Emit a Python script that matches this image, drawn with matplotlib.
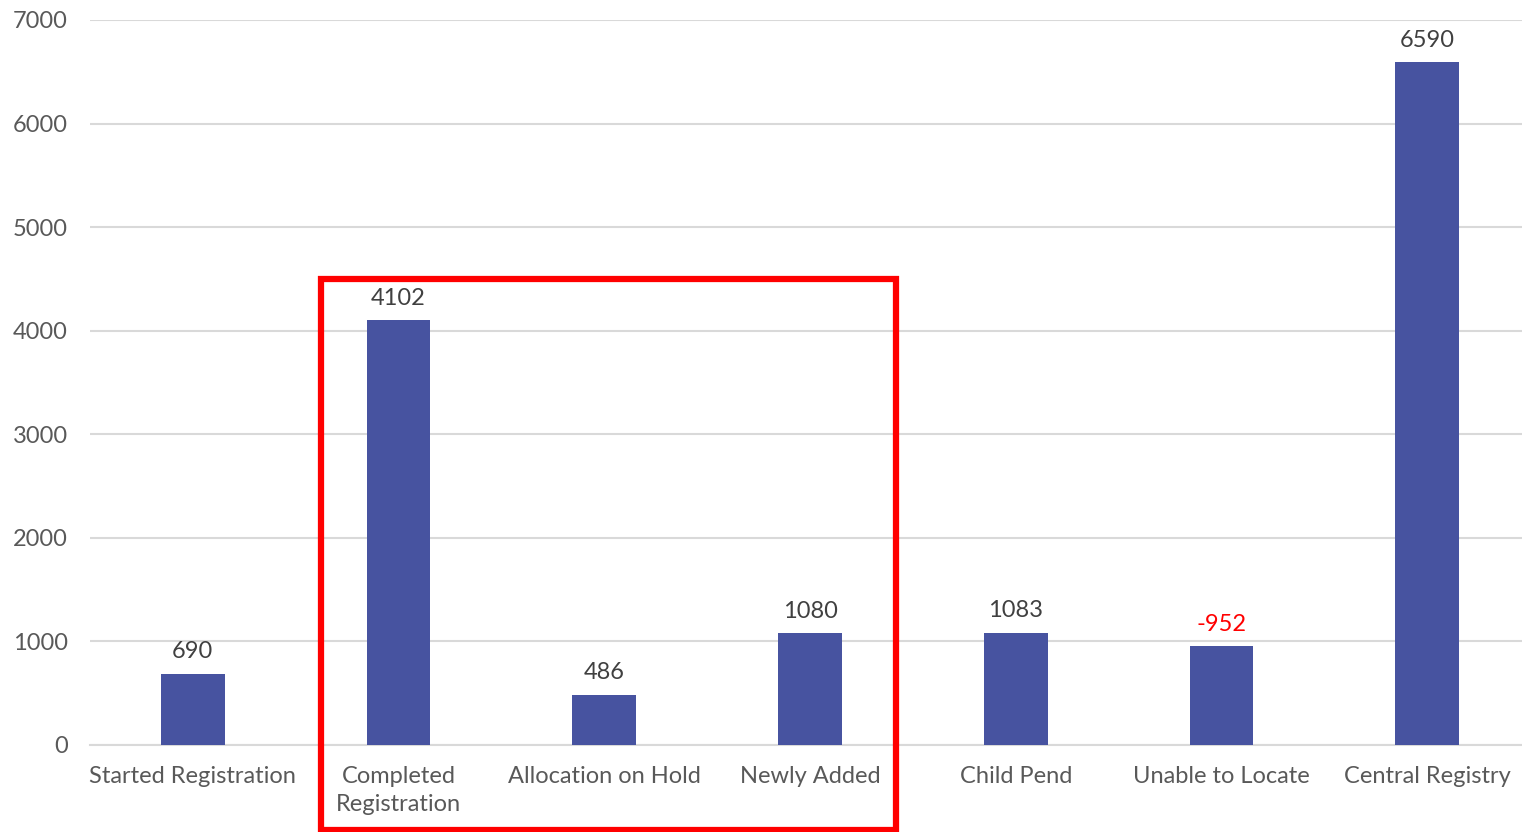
import matplotlib
matplotlib.use('Agg')
import matplotlib.pyplot as plt
from matplotlib.patches import Rectangle

categories = ['Started Registration', 'Completed\nRegistration', 'Allocation on Hold',
              'Newly Added', 'Child Pend', 'Unable to Locate', 'Central Registry']
values = [690, 4102, 486, 1080, 1083, 952, 6590]
value_labels = ['690', '4102', '486', '1080', '1083', '-952', '6590']
label_colors = ['#404040', '#404040', '#404040', '#404040', '#404040', '#FF0000', '#404040']

plt.rcParams['font.family'] = ['Lato', 'DejaVu Sans']

fig = plt.figure(figsize=(15.22, 8.32), dpi=100)
ax = fig.add_axes([90 / 1522, 0.1046, 1440 / 1522, 0.8714])

x = range(len(categories))
bars = ax.bar(x, values, width=0.31, color='#4753A0', zorder=3)

for i, b in enumerate(bars):
    ax.text(b.get_x() + b.get_width() / 2, values[i] + 110, value_labels[i],
            ha='center', va='bottom', fontsize=17, color=label_colors[i])

ax.set_xlim(-0.5, len(categories) - 0.5)
ax.set_ylim(0, 7000)
ax.set_yticks(range(0, 7001, 1000))
ax.set_xticks(list(x))
ax.set_xticklabels(categories, fontsize=17, color='#595959', linespacing=1.45)
ax.tick_params(axis='y', labelsize=17, labelcolor='#595959', length=0, pad=16)
ax.tick_params(axis='x', length=0, pad=15)
ax.grid(axis='y', color='#D9D9D9', linewidth=1.5, zorder=0)
for s in ['top', 'right', 'left']:
    ax.spines[s].set_visible(False)
ax.spines['bottom'].set_color('#D9D9D9')
ax.spines['bottom'].set_linewidth(1.5)

# red highlight box around the middle group
rect = Rectangle((321 / 1522, 2 / 832), (896 - 321) / 1522, (553 - 2) / 832,
                 transform=fig.transFigure, fill=False, edgecolor='#FF0000',
                 linewidth=4.5, clip_on=False, zorder=10)
fig.patches.append(rect)

fig.savefig('out.png', dpi=100)
